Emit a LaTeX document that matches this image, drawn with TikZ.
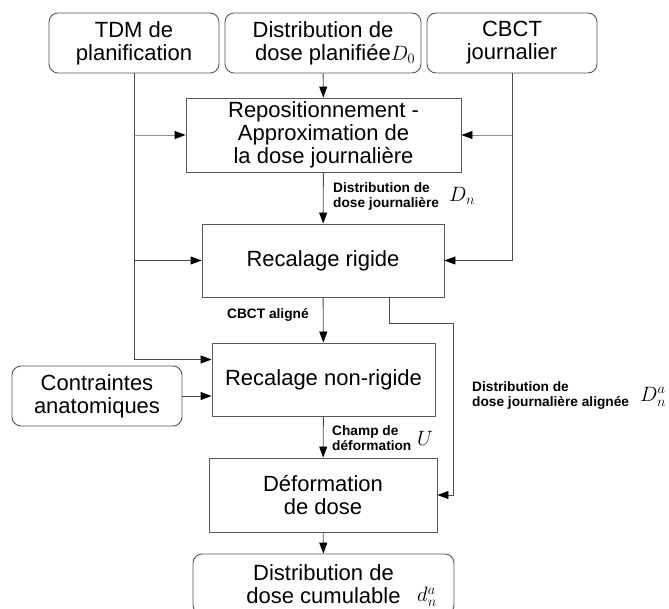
\documentclass[tikz,border=0pt]{standalone}
\usepackage{fontspec}
\setmainfont{Liberation Sans}
\usetikzlibrary{arrows.meta}

\newcommand{\lblfont}{\fontsize{13.7}{15}\selectfont\bfseries}
\newcommand{\bigmath}[1]{{\fontsize{22}{22}\selectfont$#1$}}

\begin{document}
\begin{tikzpicture}[x=1pt, y=-1pt]
\tikzstyle{every node}=[font=\fontsize{22}{23}\selectfont, align=center, inner sep=0pt]
\tikzstyle{src}=[draw=black!65, line width=0.9pt, rounded corners=9pt, minimum width=170pt, minimum height=60pt]
\tikzstyle{proc}=[draw=black!65, line width=0.9pt, minimum height=74pt]
\tikzstyle{lbl}=[font=\lblfont, align=left, anchor=west]
\tikzstyle{fl}=[draw=black!70, line width=0.9pt, -{Triangle[length=11pt,width=8pt,color=black]}]
\useasboundingbox (0,0) rectangle (669,609);

\node(tdm)[src]                      at (134,  43) {TDM de\\planification};
\node(dz)[src, minimum width=196pt]  at (323,  43) {Distribution de\\dose planifiée\rlap{\bigmath{D_0}}};
\node(cb)[src]                       at (512,  43) {CBCT\\journalier};
\node(rep)[proc, minimum width=275pt] at (323.5, 135) {Repositionnement -\\Approximation de\\la dose journalière};
\node(rr)[proc, minimum width=242pt, minimum height=73pt]  at (323, 260.5) {Recalage rigide};
\node(rnr)[proc, minimum width=223pt, minimum height=73pt] at (323.5, 379.5) {Recalage non-rigide};
\node(ca)[src]                       at (97, 396) {Contraintes\\anatomiques};
\node(def)[proc, minimum width=228pt] at (323, 495) {Déformation\\de dose};
\node(dc)[src, minimum width=261pt]  at (323.5, 584) {Distribution de\\dose cumulable};
\node(mdc)[anchor=west] at (417, 597) {\bigmath{d_n^a}};

\node(ldn)[lbl] at (333, 196) {Distribution de\\dose journalière};
\node(mdn)[anchor=west] at (449, 196) {\bigmath{D_n}};
\node(lcb)[lbl] at (227, 315) {CBCT aligné};
\node(lch)[lbl] at (332, 438) {Champ de\\déformation};
\node(mch)[anchor=west] at (417, 438) {\bigmath{U}};
\node(lda)[lbl] at (472, 395) {Distribution de\\dose journalière alignée};
\node(mda)[anchor=west] at (640, 397) {\bigmath{D_n^a}};

\coordinate(bend) at (453, 323);

\draw[fl] (tdm.south) |- ([yshift=20pt]rnr.west);
\draw[fl, draw=black!45] (tdm.south |- rep.west) -- (rep.west);
\draw[fl] (tdm.south |- rr.west) -- (rr.west);
\draw[fl] (cb.south) |- (rr.east);
\draw[fl, draw=black!45] (cb.south |- rep.east) -- (rep.east);
\draw[fl] (dz) -- (rep);
\draw[fl] (rep) -- (rr);
\draw[fl] (rr) -- (rnr);
\draw[fl] (ca.east) -- (ca.east -| rnr.west);
\draw[fl] (rnr) -- (def);
\draw[fl] ([xshift=66pt]rr.south) |- (bend) |- (def.east);
\draw[fl] (def) -- (dc);

\end{tikzpicture}
\end{document}
